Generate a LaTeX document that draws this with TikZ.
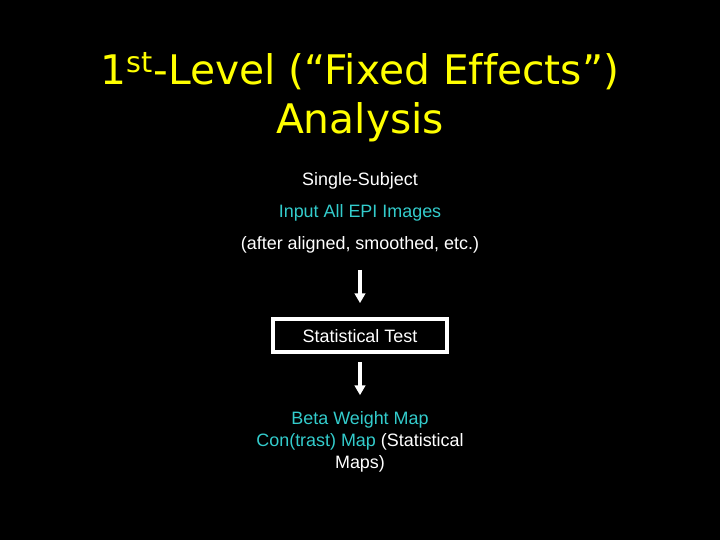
\documentclass[tikz,border=0pt]{standalone}
\usepackage{fontspec}
\setmainfont{Liberation Sans}
\newfontfamily\titlefont[Ligatures=NoCommon]{DejaVu Sans}
\usetikzlibrary{arrows.meta}

\definecolor{titleyellow}{RGB}{255,255,0}
\definecolor{mapcyan}{RGB}{51,204,204}

\tikzset{
  body/.style={text=white, font=\fontsize{12.75}{15.6}\selectfont, align=center},
  flow/.style={white, line width=2.8pt, -{Triangle[width=7.5pt,length=7pt]}},
}

\begin{document}
\begin{tikzpicture}
            \fill[black] (0,0) rectangle (18,13.5);

            % title
            \node[text=titleyellow, font=\titlefont\fontsize{29}{35}\selectfont, align=center] (title) at (9,11.07)
                {1\textsuperscript{st}-Level (“Fixed Effects”)\\Analysis};

            \node[body] (subject) at (9,8.99) {Single-Subject};
            \node[body, text=mapcyan] (input) at (9,8.17) {Input All EPI Images};
            \node[body] (prep) at (9,7.37) {(after aligned, smoothed, etc.)};

            \node[body, draw=white, line width=2.8pt, minimum width=4.35cm, minimum height=0.825cm] (test) at (9,5.11) {Statistical Test};

            \node[body] (maps) at (9,2.46)
                {\textcolor{mapcyan}{Beta Weight Map}\\\textcolor{mapcyan}{Con(trast) Map} (Statistical\\Maps)};

            \coordinate (in1) at (9,6.75);
            \coordinate (out2) at (9,3.62);
            \draw[flow, shorten >=0.35cm] (in1) -- (test);
            \draw[flow, shorten <=0.2cm] (test) -- (out2);
        \end{tikzpicture}
\end{document}
